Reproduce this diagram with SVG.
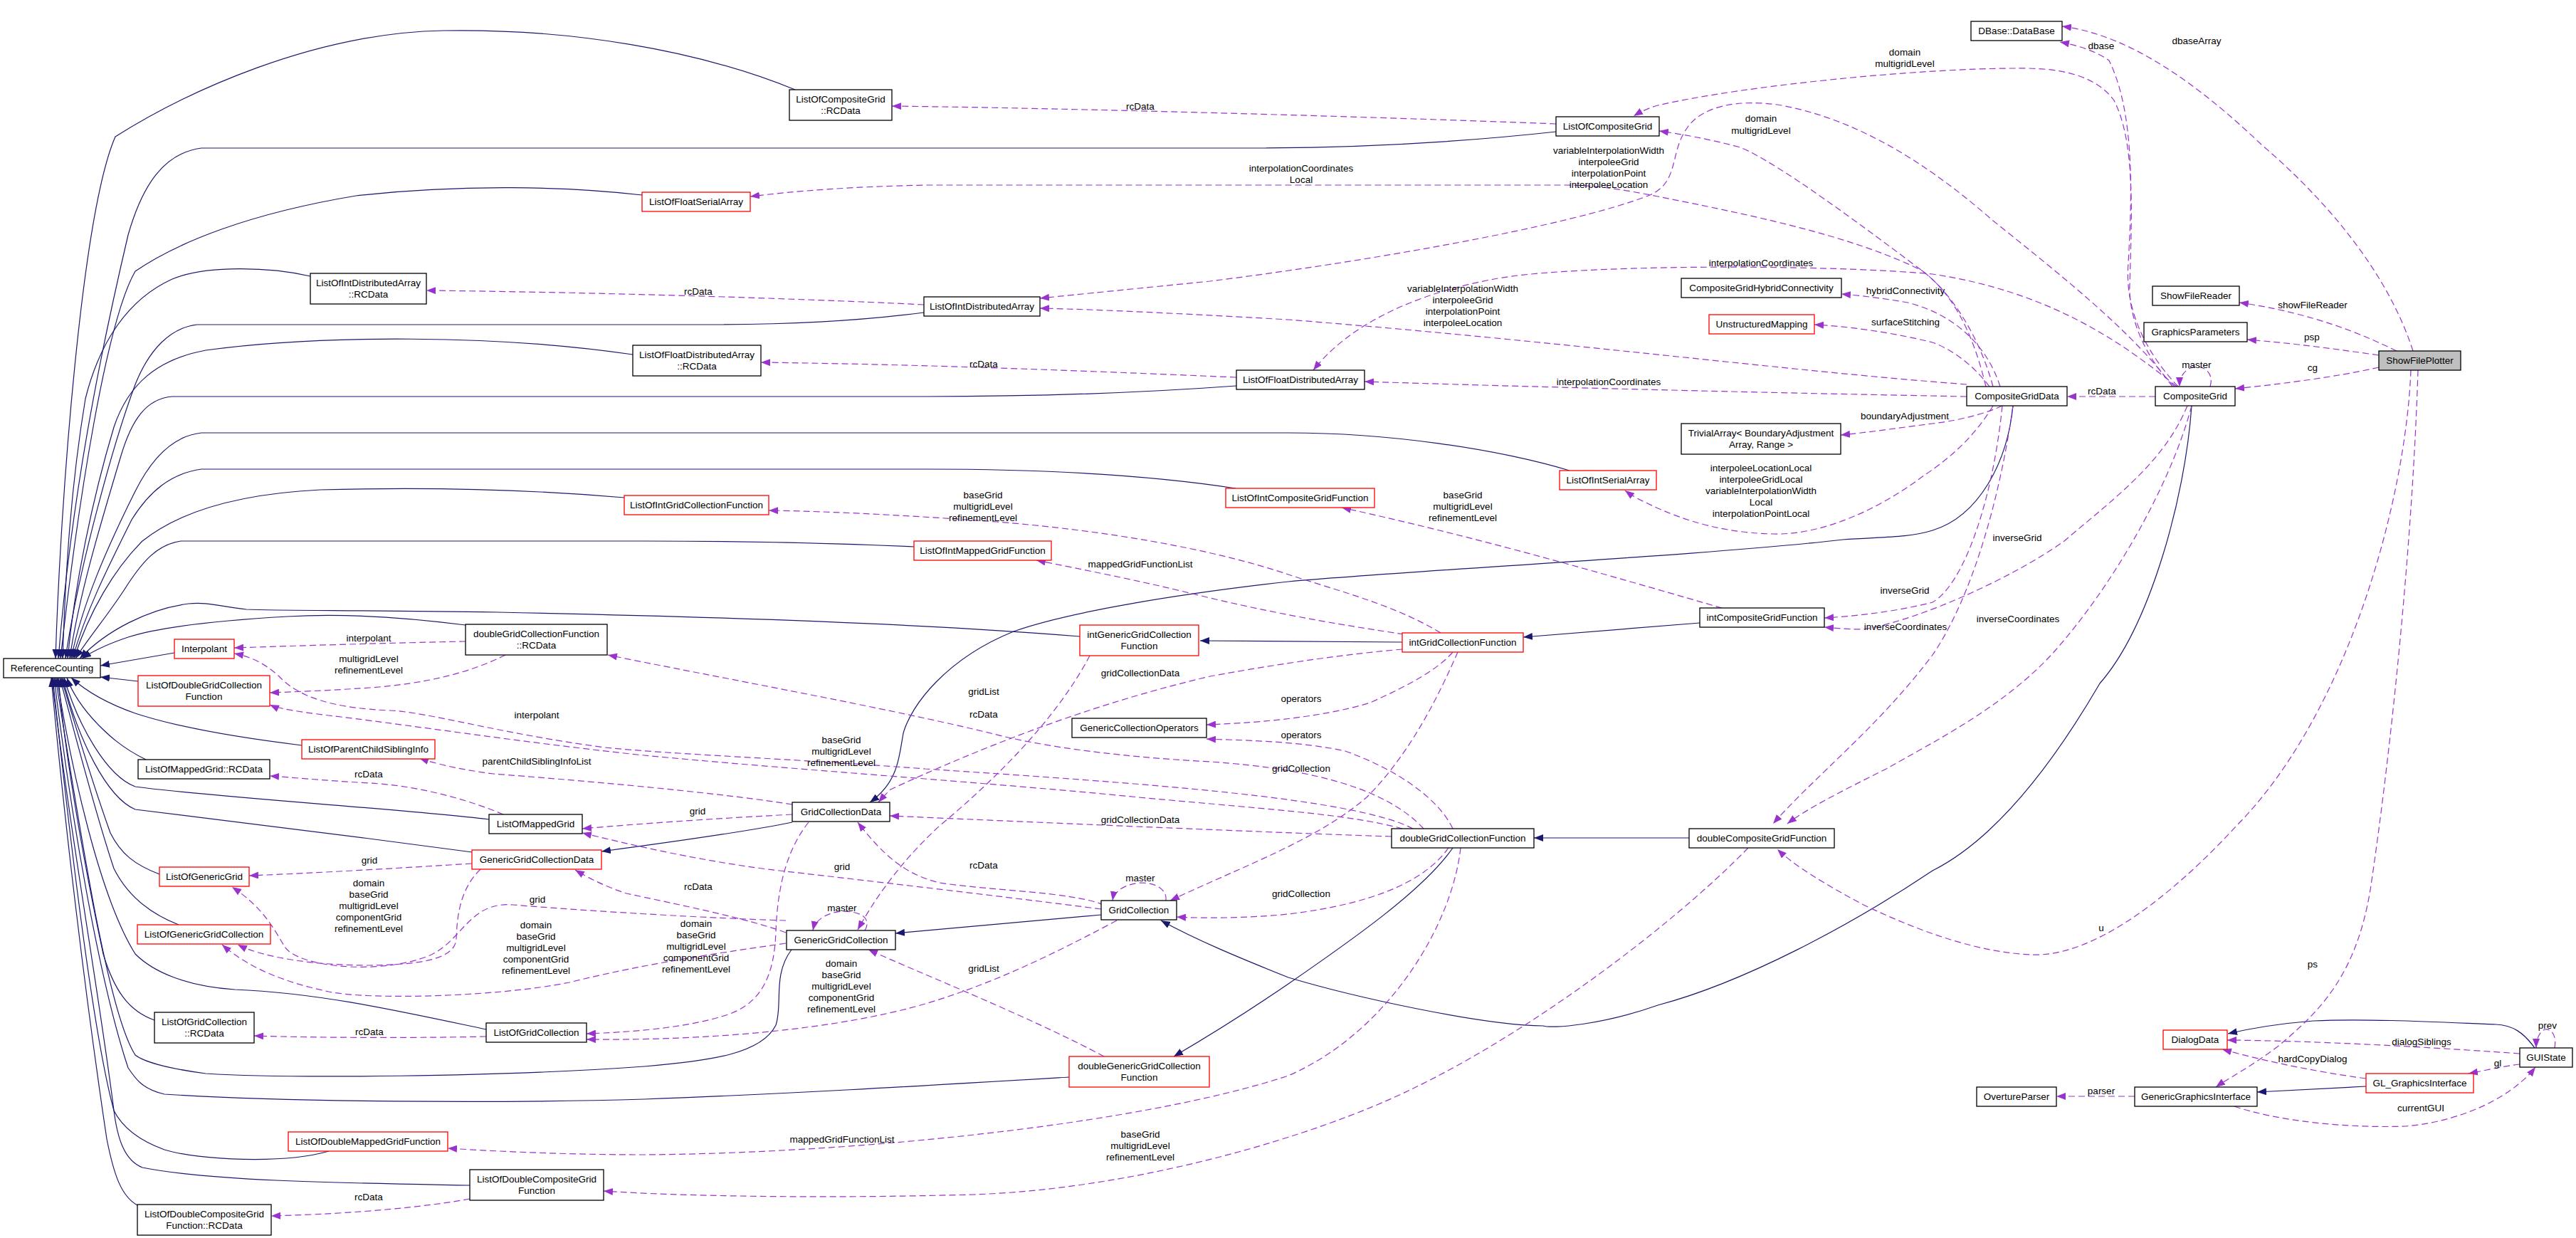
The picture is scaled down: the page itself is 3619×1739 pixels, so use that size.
<svg xmlns="http://www.w3.org/2000/svg" width="3619" height="1739" viewBox="0 0 3619 1739">
<defs>
<style>
rect{fill:#fff;stroke:#000;stroke-width:1.3}
.r rect{stroke:#ff0000}
.g rect{fill:#bfbfbf}
text{font-family:"Liberation Sans",Arial,sans-serif;font-size:13.5px;text-anchor:middle;fill:#000}
.i{stroke:#191970;fill:none;stroke-width:1.2;marker-end:url(#ai)}
.c{stroke:#9a32cd;fill:none;stroke-width:1.2;stroke-dasharray:9,5;marker-end:url(#ac)}
</style>
<marker id="ai" viewBox="0 0 13 10" refX="13" refY="5" markerWidth="13" markerHeight="10" markerUnits="userSpaceOnUse" orient="auto"><path d="M0,0 L13,5 L0,10 z" fill="#191970"/></marker>
<marker id="ac" viewBox="0 0 13 10" refX="13" refY="5" markerWidth="13" markerHeight="10" markerUnits="userSpaceOnUse" orient="auto"><path d="M0,0 L13,5 L0,10 z" fill="#9a32cd"/></marker>
</defs>
<rect x="0" y="0" width="3619" height="1739" style="fill:#fff;stroke:none"/>
<g id="edges">
<!-- inheritance into ReferenceCounting -->
<path class="i" d="M1117,126 C980,70 800,40 623,43 C440,46 260,130 162,192 C115,300 85,700 78,925"/>
<path class="i" d="M2186,185 C2050,200 1900,208 1750,208 L283,208 C230,215 200,260 180,330 C140,500 100,700 82,925"/>
<path class="i" d="M902,274 C800,262 650,258 500,275 C350,300 250,340 190,381 C150,450 110,700 85,925"/>
<path class="i" d="M436,388 C380,375 290,372 242,392 C180,420 140,480 120,560 C100,680 92,800 88,925"/>
<path class="i" d="M1298,439 C1200,452 1100,456 1000,456 L277,456 C240,460 210,490 190,540 C160,620 110,800 92,925"/>
<path class="i" d="M889,498 C700,470 450,470 289,492 C220,505 180,540 160,600 C130,700 105,820 95,925"/>
<path class="i" d="M1737,542 C1600,552 1450,557 1300,557 L242,557 C205,560 185,590 170,640 C140,740 110,840 98,925"/>
<path class="i" d="M2205,661 C2100,630 1950,608 1810,608 L283,608 C245,612 215,640 190,690 C150,770 115,850 100,925"/>
<path class="i" d="M1736,686 C1600,665 1450,659 1300,659 L283,659 C240,665 210,690 185,730 C150,800 120,860 102,925"/>
<path class="i" d="M877,699 C750,688 600,684 450,688 C330,694 250,720 200,760 C160,800 125,860 104,925"/>
<path class="i" d="M1284,768 C1150,762 1000,760 905,760 L254,760 C220,765 200,790 180,820 C155,860 125,895 106,925"/>
<path class="i" d="M1517,894 C1300,876 1000,866 700,860 C500,857 400,858 346,856 C310,852 290,845 265,848 C210,855 150,885 112,925"/>
<path class="i" d="M654,878 C560,866 470,862 404,866 C300,872 220,882 180,895 C150,905 130,915 115,925"/>
<path class="i" d="M245,917 L141,935"/>
<path class="i" d="M194,957 L141,951"/>
<path class="i" d="M424,1047 C350,1038 260,1025 190,1002 C150,988 120,970 100,952"/>
<path class="i" d="M205,1067 C170,1050 150,1030 140,1020 C115,995 100,970 94,952"/>
<path class="i" d="M687,1151 C550,1135 300,1120 190,1105 C150,1090 110,1020 90,952"/>
<path class="i" d="M663,1197 C500,1175 300,1150 190,1137 C150,1120 110,1040 88,952"/>
<path class="i" d="M224,1228 C190,1215 170,1200 155,1170 C130,1100 100,1000 86,952"/>
<path class="i" d="M251,1299 C215,1285 180,1260 160,1220 C130,1130 100,1010 84,952"/>
<path class="i" d="M217,1433 C180,1420 160,1390 145,1340 C115,1200 90,1050 82,952"/>
<path class="i" d="M683,1446 C560,1420 450,1395 330,1390 C260,1385 215,1365 190,1340 C140,1260 100,1080 80,952"/>
<path class="i" d="M1112,1334 C1085,1370 1100,1410 1090,1440 C1070,1480 1000,1490 905,1498 C700,1513 400,1515 289,1508 C230,1500 200,1490 190,1482 C150,1420 110,1150 78,952"/>
<path class="i" d="M1502,1513 C1300,1525 1100,1537 905,1544 C700,1550 400,1548 231,1537 C200,1530 190,1515 180,1500 C140,1380 100,1150 76,952"/>
<path class="i" d="M462,1617 C400,1635 280,1630 231,1615 C190,1600 170,1580 160,1560 C130,1450 95,1150 74,952"/>
<path class="i" d="M660,1665 C500,1662 300,1660 200,1640 C175,1630 165,1600 160,1560 C140,1400 95,1150 73,952"/>
<path class="i" d="M193,1693 C170,1680 160,1650 150,1600 C120,1400 90,1150 72,952"/>
<!-- other inheritance -->
<path class="i" d="M1970,902 L1686,900"/>
<path class="i" d="M2388,875 L2140,895"/>
<path class="i" d="M2373,1177 L2155,1177"/>
<path class="i" d="M2041,1191 C2000,1250 1900,1320 1810,1382 C1740,1430 1690,1460 1649,1484"/>
<path class="i" d="M1547,1285 L1258,1311"/>
<path class="i" d="M1113,1155 C1050,1168 950,1182 845,1196"/>
<path class="i" d="M2828,570 C2820,650 2780,725 2715,745 C2680,756 2640,754 2589,758 C2400,780 2000,800 1810,817 C1650,835 1500,860 1424,887 C1330,925 1280,990 1269,1030 C1262,1070 1260,1100 1222,1127"/>
<path class="i" d="M3079,570 C3070,700 3020,880 2950,960 C2880,1080 2800,1180 2715,1223 C2600,1300 2450,1380 2329,1412 C2250,1440 2180,1445 2168,1441 C2080,1440 1900,1400 1810,1373 C1740,1345 1680,1320 1631,1293"/>
<path class="i" d="M3561,1472 C3545,1450 3530,1440 3506,1439 C3450,1437 3330,1430 3250,1434 C3200,1438 3160,1445 3130,1452"/>
<path class="i" d="M3324,1526 L3171,1534"/>
<!-- collaboration (dashed) -->
<path class="c" d="M2186,174 C1900,163 1500,152 1253,149"/>
<path class="c" d="M1298,428 C1100,418 800,410 599,408"/>
<path class="c" d="M1737,530 C1500,520 1300,512 1069,509"/>
<path class="c" d="M3055,543 C3010,500 2990,440 2992,400 C2995,300 3000,200 2970,141 C2940,100 2880,95 2830,96 C2700,96 2450,120 2329,148 C2315,152 2305,157 2295,163"/>
<path class="c" d="M2800,543 C2780,470 2740,410 2700,380 C2620,320 2500,230 2445,207 C2400,195 2360,188 2331,184"/>
<path class="c" d="M2790,543 C2770,460 2740,410 2700,380 C2600,330 2450,300 2329,276 C2280,266 2240,260 2200,260 L1300,260 C1200,262 1120,268 1054,276"/>
<path class="c" d="M3052,543 C3000,470 2900,390 2800,310 C2720,240 2620,170 2503,148 C2440,138 2390,150 2370,180 C2345,215 2360,255 2318,274 C2200,320 1900,370 1700,395 C1600,405 1520,413 1461,419"/>
<path class="c" d="M2763,540 C2500,520 2200,480 1810,449 C1650,440 1550,435 1461,433"/>
<path class="c" d="M3058,543 C2980,480 2880,410 2715,385 C2550,370 2200,372 2099,392 C2000,410 1900,450 1845,520"/>
<path class="c" d="M2763,557 C2500,552 2200,545 1917,536"/>
<path class="c" d="M2810,543 C2790,480 2740,440 2680,425 C2640,418 2610,415 2587,413"/>
<path class="c" d="M2795,543 C2770,510 2740,490 2715,481 C2650,465 2590,458 2549,456"/>
<path class="c" d="M2813,570 C2780,585 2740,592 2715,595 C2660,602 2620,608 2586,611"/>
<path class="c" d="M2800,570 C2770,620 2730,650 2700,670 C2640,715 2560,752 2491,750 C2400,748 2340,720 2300,700 C2292,695 2287,692 2283,689"/>
<path class="c" d="M2813,570 C2800,700 2760,820 2715,846 C2660,860 2600,866 2563,868"/>
<path class="c" d="M3073,570 C3040,650 2970,700 2900,760 C2830,810 2700,870 2618,884 C2595,884 2575,882 2563,881"/>
<path class="c" d="M2828,570 C2810,700 2770,840 2715,920 C2640,1020 2550,1090 2491,1157"/>
<path class="c" d="M3079,570 C3050,680 2970,820 2888,913 C2820,990 2720,1040 2650,1080 C2590,1110 2540,1135 2511,1157"/>
<path class="c" d="M3028,557 L2904,557"/>
<path class="c" d="M3105,543 C3112,520 3090,512 3080,516 C3068,520 3062,530 3062,543"/>
<path class="c" d="M3060,543 C3010,490 2985,430 2990,370 C2995,280 3000,160 2963,85 C2945,72 2920,64 2894,59"/>
<path class="c" d="M3390,493 C3360,400 3290,300 3177,203 C3100,130 3000,50 2897,37"/>
<path class="c" d="M3367,493 C3320,470 3250,440 3146,425"/>
<path class="c" d="M3342,499 C3280,490 3220,482 3157,477"/>
<path class="c" d="M3342,516 C3280,530 3200,540 3140,546"/>
<path class="c" d="M3387,520 C3380,700 3300,1000 3142,1160 C3050,1260 2940,1345 2854,1341 C2780,1338 2700,1310 2618,1271 C2560,1240 2520,1215 2497,1193"/>
<path class="c" d="M3397,520 C3390,750 3360,1050 3330,1250 C3310,1370 3260,1420 3200,1470 C3160,1500 3130,1515 3113,1527"/>
<path class="c" d="M3540,1480 C3400,1470 3250,1462 3129,1461"/>
<path class="c" d="M3324,1515 C3250,1505 3180,1490 3122,1474"/>
<path class="c" d="M3540,1495 C3515,1498 3495,1503 3468,1508"/>
<path class="c" d="M3589,1472 C3592,1455 3585,1445 3576,1446 C3568,1448 3563,1460 3563,1472"/>
<path class="c" d="M2999,1540 L2889,1540"/>
<path class="c" d="M3139,1554 C3200,1575 3300,1585 3380,1582 C3460,1575 3530,1540 3562,1499"/>
<path class="c" d="M654,901 C550,903 420,907 329,910"/>
<path class="c" d="M710,920 C660,945 600,960 520,966 C460,970 410,972 379,973"/>
<path class="c" d="M2000,1164 C1950,1110 1850,1080 1700,1070 C1550,1062 1450,1045 1396,1031 C1250,995 1000,950 854,920"/>
<path class="c" d="M1985,1164 C1900,1120 1600,1100 1300,1080 C1100,1065 950,1060 850,1050 C700,1030 600,1000 548,998 C470,995 420,980 392,950 C370,930 350,922 329,918"/>
<path class="c" d="M1970,1164 C1900,1145 1810,1139 1600,1120 C1400,1100 1100,1080 905,1061 C750,1045 550,1015 462,1005 C420,1000 390,995 379,990"/>
<path class="c" d="M1955,1175 C1800,1170 1500,1157 1250,1146"/>
<path class="c" d="M2035,1191 C2000,1240 1925,1270 1810,1284 C1750,1290 1690,1290 1653,1288"/>
<path class="c" d="M2041,1164 C2020,1120 1960,1080 1890,1055 C1820,1040 1740,1040 1695,1038"/>
<path class="c" d="M2052,1191 C2040,1300 1950,1450 1810,1511 C1600,1580 1200,1620 905,1622 C780,1622 680,1616 629,1613"/>
<path class="c" d="M2456,1191 C2350,1300 2150,1450 1983,1530 C1850,1595 1600,1670 1367,1678 C1150,1684 950,1680 848,1673"/>
<path class="c" d="M2024,889 C1960,850 1880,830 1810,807 C1700,770 1550,745 1400,733 C1250,722 1150,718 1080,717"/>
<path class="c" d="M2419,854 C2300,820 2100,760 1885,713"/>
<path class="c" d="M1972,891 C1900,880 1810,866 1700,840 C1600,815 1520,800 1456,787"/>
<path class="c" d="M1970,912 C1900,918 1810,930 1700,950 C1550,985 1400,1040 1251,1109 C1245,1115 1240,1120 1234,1127"/>
<path class="c" d="M2041,916 C2020,940 1983,961 1925,987 C1850,1010 1750,1016 1695,1018"/>
<path class="c" d="M2048,916 C2020,980 1980,1060 1920,1120 C1850,1180 1750,1215 1644,1265"/>
<path class="c" d="M1531,921 C1500,980 1440,1060 1320,1160 C1260,1215 1225,1270 1205,1306"/>
<path class="c" d="M1113,1130 C1000,1112 800,1095 693,1087 C640,1080 610,1072 589,1065"/>
<path class="c" d="M1113,1144 C1000,1150 900,1157 818,1164"/>
<path class="c" d="M707,1144 C650,1120 580,1103 519,1100 C450,1096 410,1092 379,1090"/>
<path class="c" d="M1547,1277 C1400,1258 1200,1235 1078,1221 C980,1208 900,1190 818,1170"/>
<path class="c" d="M1551,1271 C1500,1252 1400,1252 1320,1240 C1270,1228 1240,1200 1205,1155"/>
<path class="c" d="M1104,1310 C1050,1290 950,1270 880,1255 C850,1245 830,1235 808,1222"/>
<path class="c" d="M1104,1293 C1000,1290 830,1280 721,1271 C660,1266 650,1320 606,1341 C540,1370 420,1360 400,1330 C385,1305 370,1275 326,1246"/>
<path class="c" d="M1104,1325 C1000,1340 900,1355 800,1380 C700,1400 520,1405 462,1393 C400,1380 350,1360 312,1327"/>
<path class="c" d="M663,1213 C550,1220 450,1226 350,1230"/>
<path class="c" d="M675,1221 C645,1250 642,1290 641,1320 C638,1345 600,1355 519,1356 C440,1356 370,1345 334,1327"/>
<path class="c" d="M1136,1155 C1100,1200 1092,1260 1090,1308 C1088,1370 1070,1410 1020,1426 C960,1445 880,1450 824,1452"/>
<path class="c" d="M1569,1293 C1480,1340 1400,1380 1300,1410 C1180,1445 1000,1462 824,1460"/>
<path class="c" d="M1551,1484 C1450,1430 1300,1370 1220,1334"/>
<path class="c" d="M683,1456 C600,1458 450,1458 357,1455"/>
<path class="c" d="M660,1684 C600,1695 500,1705 381,1708"/>
<path class="c" d="M1215,1307 C1225,1290 1210,1280 1183,1280 C1160,1282 1145,1293 1142,1307"/>
<path class="c" d="M1638,1265 C1640,1250 1625,1240 1602,1240 C1580,1242 1565,1252 1563,1265"/>
<!-- edge labels -->
<text x="1602" y="154">rcData</text>
<text x="981" y="414">rcData</text>
<text x="1382" y="516">rcData</text>
<text x="1828" y="241">interpolationCoordinates</text><text x="1828" y="257">Local</text>
<text x="2676" y="78">domain</text><text x="2676" y="94">multigridLevel</text>
<text x="2474" y="171">domain</text><text x="2474" y="188">multigridLevel</text>
<text x="2260" y="216">variableInterpolationWidth</text><text x="2260" y="232">interpoleeGrid</text><text x="2260" y="248">interpolationPoint</text><text x="2260" y="264">interpoleeLocation</text>
<text x="2055" y="410">variableInterpolationWidth</text><text x="2055" y="426">interpoleeGrid</text><text x="2055" y="442">interpolationPoint</text><text x="2055" y="458">interpoleeLocation</text>
<text x="2474" y="374">interpolationCoordinates</text>
<text x="2260" y="541">interpolationCoordinates</text>
<text x="2677" y="413">hybridConnectivity</text>
<text x="2677" y="457">surfaceStitching</text>
<text x="2676" y="589">boundaryAdjustment</text>
<text x="2474" y="662">interpoleeLocationLocal</text><text x="2474" y="678">interpoleeGridLocal</text><text x="2474" y="694">variableInterpolationWidth</text><text x="2474" y="710">Local</text><text x="2474" y="726">interpolationPointLocal</text>
<text x="2676" y="834">inverseGrid</text>
<text x="2677" y="885">inverseCoordinates</text>
<text x="2834" y="760">inverseGrid</text>
<text x="2835" y="874">inverseCoordinates</text>
<text x="2952" y="69">dbase</text>
<text x="3086" y="62">dbaseArray</text>
<text x="3249" y="433">showFileReader</text>
<text x="3248" y="478">psp</text>
<text x="3249" y="521">cg</text>
<text x="3086" y="517">master</text>
<text x="2953" y="554">rcData</text>
<text x="2952" y="1308">u</text>
<text x="3249" y="1359">ps</text>
<text x="3579" y="1445">prev</text>
<text x="3402" y="1468">dialogSiblings</text>
<text x="3249" y="1492">hardCopyDialog</text>
<text x="3509" y="1498">gl</text>
<text x="2952" y="1537">parser</text>
<text x="3401" y="1561">currentGUI</text>
<text x="518" y="901">interpolant</text>
<text x="518" y="930">multigridLevel</text><text x="518" y="946">refinementLevel</text>
<text x="754" y="1009">interpolant</text>
<text x="754" y="1074">parentChildSiblingInfoList</text>
<text x="518" y="1092">rcData</text>
<text x="1381" y="700">baseGrid</text><text x="1381" y="716">multigridLevel</text><text x="1381" y="732">refinementLevel</text>
<text x="1602" y="797">mappedGridFunctionList</text>
<text x="2055" y="700">baseGrid</text><text x="2055" y="716">multigridLevel</text><text x="2055" y="732">refinementLevel</text>
<text x="1602" y="950">gridCollectionData</text>
<text x="1382" y="976">gridList</text>
<text x="1382" y="1008">rcData</text>
<text x="1828" y="986">operators</text>
<text x="1828" y="1037">operators</text>
<text x="1182" y="1044">baseGrid</text><text x="1182" y="1060">multigridLevel</text><text x="1182" y="1076">refinementLevel</text>
<text x="980" y="1144">grid</text>
<text x="1602" y="1156">gridCollectionData</text>
<text x="1828" y="1084">gridCollection</text>
<text x="1828" y="1260">gridCollection</text>
<text x="519" y="1213">grid</text>
<text x="518" y="1245">domain</text><text x="518" y="1261">baseGrid</text><text x="518" y="1277">multigridLevel</text><text x="518" y="1293">componentGrid</text><text x="518" y="1309">refinementLevel</text>
<text x="755" y="1268">grid</text>
<text x="753" y="1304">domain</text><text x="753" y="1320">baseGrid</text><text x="753" y="1336">multigridLevel</text><text x="753" y="1352">componentGrid</text><text x="753" y="1368">refinementLevel</text>
<text x="519" y="1454">rcData</text>
<text x="518" y="1686">rcData</text>
<text x="1183" y="1222">grid</text>
<text x="1382" y="1220">rcData</text>
<text x="1602" y="1238">master</text>
<text x="981" y="1250">rcData</text>
<text x="1183" y="1280">master</text>
<text x="978" y="1302">domain</text><text x="978" y="1318">baseGrid</text><text x="978" y="1334">multigridLevel</text><text x="978" y="1350">componentGrid</text><text x="978" y="1366">refinementLevel</text>
<text x="1182" y="1358">domain</text><text x="1182" y="1374">baseGrid</text><text x="1182" y="1390">multigridLevel</text><text x="1182" y="1406">componentGrid</text><text x="1182" y="1422">refinementLevel</text>
<text x="1382" y="1365">gridList</text>
<text x="1183" y="1605">mappedGridFunctionList</text>
<text x="1602" y="1598">baseGrid</text><text x="1602" y="1614">multigridLevel</text><text x="1602" y="1630">refinementLevel</text>
</g>
<g id="n-ReferenceCounting"><rect x="5" y="925" width="136" height="27"/><text x="73" y="943">ReferenceCounting</text></g>
<g id="n-ListOfIntDistributedArrayRCData"><rect x="436" y="384" width="163" height="43"/><text x="517.5" y="402">ListOfIntDistributedArray</text><text x="517.5" y="418">::RCData</text></g>
<g id="n-ListOfCompositeGridRCData"><rect x="1109" y="126" width="144" height="43"/><text x="1181" y="144">ListOfCompositeGrid</text><text x="1181" y="160">::RCData</text></g>
<g id="n-ListOfFloatSerialArray" class="r"><rect x="902" y="270" width="152" height="27"/><text x="978" y="288">ListOfFloatSerialArray</text></g>
<g id="n-ListOfIntDistributedArray"><rect x="1298" y="417" width="163" height="27"/><text x="1379.5" y="435">ListOfIntDistributedArray</text></g>
<g id="n-ListOfFloatDistributedArrayRCData"><rect x="889" y="485" width="180" height="43"/><text x="979" y="503">ListOfFloatDistributedArray</text><text x="979" y="519">::RCData</text></g>
<g id="n-ListOfFloatDistributedArray"><rect x="1737" y="520" width="180" height="27"/><text x="1827" y="538">ListOfFloatDistributedArray</text></g>
<g id="n-ListOfCompositeGrid"><rect x="2186" y="164" width="145" height="27"/><text x="2258.5" y="182">ListOfCompositeGrid</text></g>
<g id="n-CompositeGridHybridConnectivity"><rect x="2362" y="391" width="225" height="27"/><text x="2474.5" y="409">CompositeGridHybridConnectivity</text></g>
<g id="n-UnstructuredMapping" class="r"><rect x="2401" y="442" width="148" height="27"/><text x="2475" y="460">UnstructuredMapping</text></g>
<g id="n-DBaseDataBase"><rect x="2769" y="30" width="128" height="27"/><text x="2833" y="48">DBase::DataBase</text></g>
<g id="n-ShowFileReader"><rect x="3024" y="402" width="122" height="27"/><text x="3085" y="420">ShowFileReader</text></g>
<g id="n-GraphicsParameters"><rect x="3012" y="453" width="145" height="27"/><text x="3084.5" y="471">GraphicsParameters</text></g>
<g id="n-ShowFilePlotter" class="g"><rect x="3342" y="493" width="115" height="27"/><text x="3399.5" y="511">ShowFilePlotter</text></g>
<g id="n-CompositeGridData"><rect x="2763" y="543" width="141" height="27"/><text x="2833.5" y="561">CompositeGridData</text></g>
<g id="n-CompositeGrid"><rect x="3028" y="543" width="112" height="27"/><text x="3084" y="561">CompositeGrid</text></g>
<g id="n-TrivialArray"><rect x="2362" y="595" width="224" height="43"/><text x="2474" y="613">TrivialArray&lt; BoundaryAdjustment</text><text x="2474" y="629">Array, Range &gt;</text></g>
<g id="n-ListOfIntSerialArray" class="r"><rect x="2191" y="661" width="136" height="27"/><text x="2259" y="679">ListOfIntSerialArray</text></g>
<g id="n-ListOfIntCompositeGridFunction" class="r"><rect x="1722" y="686" width="209" height="27"/><text x="1826.5" y="704">ListOfIntCompositeGridFunction</text></g>
<g id="n-intCompositeGridFunction"><rect x="2388" y="854" width="175" height="27"/><text x="2475.5" y="872">intCompositeGridFunction</text></g>
<g id="n-intGridCollectionFunction" class="r"><rect x="1970" y="889" width="170" height="27"/><text x="2055" y="907">intGridCollectionFunction</text></g>
<g id="n-ListOfIntGridCollectionFunction" class="r"><rect x="877" y="696" width="203" height="27"/><text x="978.5" y="714">ListOfIntGridCollectionFunction</text></g>
<g id="n-ListOfIntMappedGridFunction" class="r"><rect x="1284" y="760" width="193" height="27"/><text x="1380.5" y="778">ListOfIntMappedGridFunction</text></g>
<g id="n-intGenericGridCollectionFunction" class="r"><rect x="1517" y="878" width="167" height="43"/><text x="1600.5" y="896">intGenericGridCollection</text><text x="1600.5" y="912">Function</text></g>
<g id="n-GenericCollectionOperators"><rect x="1506" y="1009" width="189" height="27"/><text x="1600.5" y="1027">GenericCollectionOperators</text></g>
<g id="n-GridCollectionData"><rect x="1113" y="1127" width="137" height="27"/><text x="1181.5" y="1145">GridCollectionData</text></g>
<g id="n-Interpolant" class="r"><rect x="245" y="898" width="84" height="27"/><text x="287" y="916">Interpolant</text></g>
<g id="n-ListOfDoubleGridCollectionFunction" class="r"><rect x="194" y="949" width="185" height="43"/><text x="286.5" y="967">ListOfDoubleGridCollection</text><text x="286.5" y="983">Function</text></g>
<g id="n-doubleGridCollectionFunctionRCData"><rect x="654" y="877" width="199" height="43"/><text x="753.5" y="895">doubleGridCollectionFunction</text><text x="753.5" y="911">::RCData</text></g>
<g id="n-ListOfParentChildSiblingInfo" class="r"><rect x="424" y="1039" width="187" height="27"/><text x="517.5" y="1057">ListOfParentChildSiblingInfo</text></g>
<g id="n-ListOfMappedGridRCData"><rect x="194" y="1067" width="185" height="27"/><text x="286.5" y="1085">ListOfMappedGrid::RCData</text></g>
<g id="n-ListOfMappedGrid"><rect x="687" y="1144" width="131" height="27"/><text x="752.5" y="1162">ListOfMappedGrid</text></g>
<g id="n-GenericGridCollectionData" class="r"><rect x="663" y="1194" width="182" height="27"/><text x="754" y="1212">GenericGridCollectionData</text></g>
<g id="n-ListOfGenericGrid" class="r"><rect x="224" y="1218" width="126" height="27"/><text x="287" y="1236">ListOfGenericGrid</text></g>
<g id="n-ListOfGenericGridCollection" class="r"><rect x="193" y="1299" width="187" height="27"/><text x="286.5" y="1317">ListOfGenericGridCollection</text></g>
<g id="n-ListOfGridCollectionRCData"><rect x="217" y="1422" width="140" height="43"/><text x="287" y="1440">ListOfGridCollection</text><text x="287" y="1456">::RCData</text></g>
<g id="n-ListOfGridCollection"><rect x="683" y="1437" width="141" height="27"/><text x="753.5" y="1455">ListOfGridCollection</text></g>
<g id="n-ListOfDoubleMappedGridFunction" class="r"><rect x="405" y="1590" width="224" height="27"/><text x="517" y="1608">ListOfDoubleMappedGridFunction</text></g>
<g id="n-ListOfDoubleCompositeGridFunction"><rect x="660" y="1643" width="188" height="43"/><text x="754" y="1661">ListOfDoubleCompositeGrid</text><text x="754" y="1677">Function</text></g>
<g id="n-ListOfDoubleCompositeGridFunctionRCData"><rect x="193" y="1692" width="188" height="43"/><text x="287" y="1710">ListOfDoubleCompositeGrid</text><text x="287" y="1726">Function::RCData</text></g>
<g id="n-GenericGridCollection"><rect x="1105" y="1307" width="153" height="27"/><text x="1181.5" y="1325">GenericGridCollection</text></g>
<g id="n-GridCollection"><rect x="1547" y="1265" width="106" height="27"/><text x="1600" y="1283">GridCollection</text></g>
<g id="n-doubleGenericGridCollectionFunction" class="r"><rect x="1502" y="1484" width="197" height="43"/><text x="1600.5" y="1502">doubleGenericGridCollection</text><text x="1600.5" y="1518">Function</text></g>
<g id="n-doubleGridCollectionFunction"><rect x="1955" y="1164" width="200" height="27"/><text x="2055" y="1182">doubleGridCollectionFunction</text></g>
<g id="n-doubleCompositeGridFunction"><rect x="2373" y="1164" width="204" height="27"/><text x="2475" y="1182">doubleCompositeGridFunction</text></g>
<g id="n-DialogData" class="r"><rect x="3039" y="1447" width="90" height="27"/><text x="3084" y="1465">DialogData</text></g>
<g id="n-GUIState"><rect x="3540" y="1472" width="74" height="27"/><text x="3577" y="1490">GUIState</text></g>
<g id="n-GL_GraphicsInterface" class="r"><rect x="3324" y="1508" width="151" height="27"/><text x="3399.5" y="1526">GL_GraphicsInterface</text></g>
<g id="n-GenericGraphicsInterface"><rect x="2999" y="1527" width="172" height="27"/><text x="3085" y="1545">GenericGraphicsInterface</text></g>
<g id="n-OvertureParser"><rect x="2777" y="1527" width="112" height="27"/><text x="2833" y="1545">OvertureParser</text></g>
</svg>
